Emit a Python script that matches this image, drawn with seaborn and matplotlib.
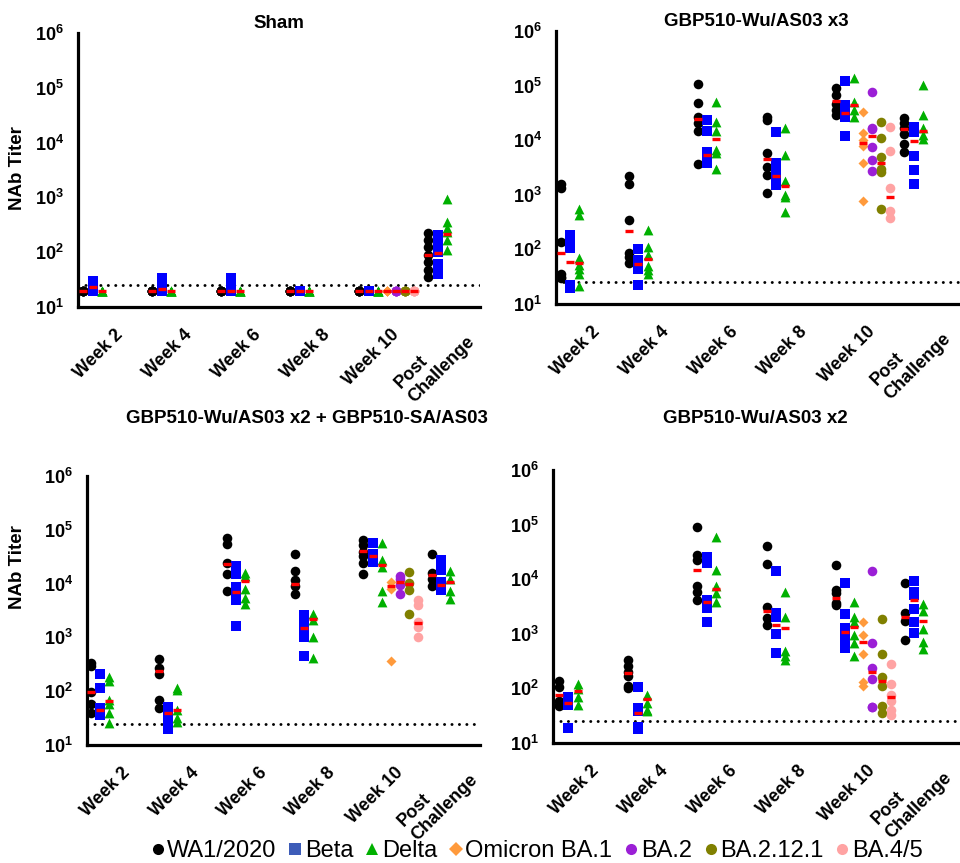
import numpy as np
import pandas as pd
import matplotlib
matplotlib.use("Agg")
import matplotlib.pyplot as plt
import matplotlib.transforms as mtransforms
from matplotlib.lines import Line2D
from matplotlib.ticker import NullLocator
import seaborn as sns

# ---------------- data ----------------
groups = ["Week 2", "Week 4", "Week 6", "Week 8", "Week 10", "Post\nChallenge"]
strains = ["WA1/2020", "Beta", "Delta", "Omicron BA.1", "BA.2", "BA.2.12.1", "BA.4/5"]
titles = ["Sham", "GBP510-Wu/AS03 x3", "GBP510-Wu/AS03 x2 + GBP510-SA/AS03", "GBP510-Wu/AS03 x2"]
lod = 25

# Sham
sham_wa1 = [[20, 20, 20, 20, 20, 20], [20, 20, 20, 20, 20, 20], [20, 20, 20, 20, 20, 20],
            [20, 20, 20, 20, 20, 20], [20, 20, 20, 20, 20, 20], [220, 170, 126, 89, 67, 47, 35]]
sham_beta = [[20, 20, 20, 25, 30], [20, 20, 22, 28, 34], [20, 20, 22, 28, 34],
             [20, 20, 20, 20, 20], [20, 20, 20, 20, 20], [210, 160, 120, 100, 62, 48, 40]]
sham_delta = [[20, 20, 20, 20, 20], [20, 20, 20, 20, 20], [20, 20, 20, 20, 20],
              [20, 20, 20, 20, 20], [20, 20, 20, 20, 20], [950, 350, 280, 230, 170, 110]]
sham_ba1 = [20, 20, 20, 20, 20]
sham_ba2 = [20, 20, 20, 20, 20]
sham_ba2121 = [20, 20, 20, 20, 20]
sham_ba45 = [20, 20, 20, 20, 20]
sham_gm_wa1 = [20, 20, 20, 20, 20, 89]
sham_gm_beta = [23, 21, 20, 20, 20, 96]
sham_gm_delta = [20, 20, 20, 20, 20, 214]
sham_gm_omicron = [20, 20, 20, 20]

# GBP510-Wu/AS03 x3
x3_wa1 = [[1550, 1350, 135, 36, 31, 30], [2200, 1600, 340, 85, 74, 56],
          [108000, 48000, 27000, 21000, 15000, 3600], [27000, 23000, 5800, 3200, 2300, 1100],
          [89000, 67000, 47000, 35000, 29500], [26000, 21000, 16500, 13200, 8500, 6200]]
x3_beta = [[180, 140, 105, 22, 20, 20], [100, 63, 44, 22],
           [23500, 15000, 6100, 5000, 3800], [14000, 3800, 2500, 1700, 1500],
           [122000, 44000, 38000, 27000, 12000], [17600, 14300, 5200, 2800, 1550]]
x3_delta = [[550, 430, 69, 52, 43, 35, 21], [230, 110, 80, 49, 42, 35],
            [50000, 21500, 15000, 6600, 5800, 3000], [17000, 5400, 1800, 1000, 900, 480],
            [139000, 50000, 35000, 27000], [101000, 29000, 16500, 12400, 10700]]
x3_ba1 = [32500, 13700, 10000, 7800, 3900, 760]
x3_ba2 = [75000, 16500, 16000, 7600, 4300, 2700]
x3_ba2121 = [22000, 11200, 4900, 3000, 2650, 550]
x3_ba45 = [17800, 6400, 1350, 510, 370]
x3_gm_wa1 = [85, 215, 24500, 4500, 52000, 15900]
x3_gm_beta = [60, 54, 5300, 2200, 31000, 9800]
x3_gm_delta = [56, 68, 10700, 1450, 44000, 14500]
x3_gm_omicron = [9000, 12000, 3900, 930]

# GBP510-Wu/AS03 x2 + GBP510-SA/AS03
sa_wa1 = [[330, 295, 98, 58, 39], [400, 270, 210, 69, 48],
          [69000, 54000, 24000, 15400, 7400], [36000, 17300, 11500, 8900, 6500],
          [64000, 52000, 38000, 32500, 24000, 15400], [35000, 16000, 12000, 9100]]
sa_beta = [[210, 113, 48, 39, 36], [51, 41, 32, 27, 19.5],
           [21000, 15400, 8700, 5700, 4900, 1650], [2600, 2080, 1800, 1180, 1030, 460],
           [58000, 36000, 31500, 25500], [28000, 18000, 10700, 7500]]
sa_delta = [[180, 157, 69, 59, 39, 26], [113, 107, 45, 31.6, 27],
            [16000, 14000, 7800, 5300, 4200], [2750, 2080, 1030, 410],
            [58000, 27000, 20500, 7400, 4500], [17000, 12000, 7300, 5200]]
sa_ba1 = [10700, 8100, 370]
sa_ba2 = [13700, 12000, 9300, 6300]
sa_ba2121 = [16600, 10300, 7700, 2750]
sa_ba45 = [4900, 4000, 1960, 1580, 1000]
sa_gm_wa1 = [96, 240, 23500, 10000, 40500, 14500]
sa_gm_beta = [45, 39, 7100, 1480, 32500, 9300]
sa_gm_delta = [66, 45, 11000, 2200, 22500, 10500]
sa_gm_omicron = [8900, 10500, 9800, 1820]

# GBP510-Wu/AS03 x2
x2_wa1 = [[135, 105, 58, 50, 47], [325, 262, 200, 167, 112, 102],
          [89000, 28000, 22600, 7600, 5900, 4200], [41000, 18700, 3160, 1940, 1460],
          [18300, 6300, 5500, 3600, 3400], [8700, 2450, 1700, 760]]
x2_beta = [[71, 58, 50, 19], [104, 44, 38, 20, 18],
           [25000, 19600, 4200, 2950, 1620], [14400, 2450, 2000, 1000, 450],
           [8700, 2300, 1260, 890, 830, 550], [9300, 5900, 5200, 2800, 1620, 1020]]
x2_delta = [[122, 96, 71, 50], [76, 55, 41, 38],
            [60000, 14900, 7400, 5500, 3900], [5900, 2000, 480, 390, 325],
            [3900, 2070, 1620, 950, 690, 390], [3500, 2600, 1230, 720, 530]]
x2_ba1 = [1620, 950, 430, 130, 110]
x2_ba2 = [14000, 680, 240, 148, 46, 45]
x2_ba2121 = [1870, 430, 160, 113, 47, 36]
x2_ba45 = [277, 122, 75, 59, 41, 33]
x2_gm_wa1 = [76, 190, 14900, 2570, 4600, 2000]
x2_gm_beta = [54, 36, 3900, 1420, 1070, 4100]
x2_gm_delta = [89, 65, 6600, 1260, 1320, 1740]
x2_gm_omicron = [700, 200, 138, 69]

# ---------------- styling ----------------
colors = {"WA1/2020": "#000000", "Beta": "#0000FF", "Delta": "#00B000",
          "Omicron BA.1": "#FF9A3C", "BA.2": "#9B1FD6", "BA.2.12.1": "#808000",
          "BA.4/5": "#FFA3A3"}
legend_colors = dict(colors, **{"Beta": "#3D5CB8"})
markers = {"WA1/2020": "o", "Beta": "s", "Delta": "^", "Omicron BA.1": "D",
           "BA.2": "o", "BA.2.12.1": "o", "BA.4/5": "o"}
msize = {"o": 48, "s": 42, "^": 50, "D": 26}
slot = 0.133

sns.set_theme(style="white")
plt.rcParams['font.family'] = ['Liberation Sans', 'DejaVu Sans']
plt.rcParams['mathtext.fontset'] = 'custom'
plt.rcParams['mathtext.rm'] = 'Liberation Sans'
plt.rcParams['mathtext.bf'] = 'Liberation Sans:bold'
plt.rcParams['text.color'] = 'black'
plt.rcParams['axes.labelcolor'] = 'black'
plt.rcParams['xtick.color'] = 'black'
plt.rcParams['ytick.color'] = 'black'


def build(wa1, beta, delta, ba1, ba2, ba2121, ba45, gwa1, gbeta, gdelta, gomi):
    rows, grows = [], []
    for s, series, gm in ((strains[0], wa1, gwa1), (strains[1], beta, gbeta), (strains[2], delta, gdelta)):
        si = strains.index(s)
        for gi, vals in enumerate(series):
            for v in vals:
                rows.append((s, gi, gi + (si - 3) * slot, v))
            grows.append((s, gi, gi + (si - 3) * slot, gm[gi]))
    for k, (s, vals) in enumerate(zip(strains[3:], (ba1, ba2, ba2121, ba45))):
        si = strains.index(s)
        gi = 4
        for v in vals:
            rows.append((s, gi, gi + (si - 3) * slot, v))
        grows.append((s, gi, gi + (si - 3) * slot, gomi[k]))
    cols = ["strain", "group", "x", "titer"]
    return pd.DataFrame(rows, columns=cols), pd.DataFrame(grows, columns=cols)


panels = [
    build(sham_wa1, sham_beta, sham_delta, sham_ba1, sham_ba2, sham_ba2121, sham_ba45,
          sham_gm_wa1, sham_gm_beta, sham_gm_delta, sham_gm_omicron),
    build(x3_wa1, x3_beta, x3_delta, x3_ba1, x3_ba2, x3_ba2121, x3_ba45,
          x3_gm_wa1, x3_gm_beta, x3_gm_delta, x3_gm_omicron),
    build(sa_wa1, sa_beta, sa_delta, sa_ba1, sa_ba2, sa_ba2121, sa_ba45,
          sa_gm_wa1, sa_gm_beta, sa_gm_delta, sa_gm_omicron),
    build(x2_wa1, x2_beta, x2_delta, x2_ba1, x2_ba2, x2_ba2121, x2_ba45,
          x2_gm_wa1, x2_gm_beta, x2_gm_delta, x2_gm_omicron),
]

W, H = 960, 863
fig = plt.figure(figsize=(W / 100, H / 100), dpi=100)

# pixel boxes: left, right, top(1e6), bottom(1e1), xlim
boxes = [(78, 480, 33, 307, (-0.478, 5.35)),
         (556, 960, 31, 304, (-0.465, 5.41)),
         (87, 480, 476, 745, (-0.455, 5.31)),
         (553, 960, 470, 743, (-0.49, 5.40))]
title_pos = [(279, 23), (756, 21), (307, 418), (755, 418)]
ylabel_pos = [(18, 168), None, (18, 567), None]

for p, ((df, gdf), (l, r, t, b, xl)) in enumerate(zip(panels, boxes)):
    ax = fig.add_axes([l / W, 1 - b / H, (r - l) / W, (b - t) / H])
    ax.set_yscale('log')
    ax.set_ylim(10, 1e6)
    ax.set_xlim(*xl)
    ax.axhline(lod, color='black', lw=2.1, linestyle=(0, (0.05, 2.5)),
               dash_capstyle='round', zorder=1)
    for s in strains:
        sub = df[df.strain == s]
        m = markers[s]
        sns.scatterplot(data=sub, x="x", y="titer", marker=m, color=colors[s],
                        s=msize[m], linewidth=0, ax=ax, legend=False, zorder=3)
    sns.scatterplot(data=gdf, x="x", y="titer", marker="_", color="#FF0000",
                    s=30, linewidth=2.4, ax=ax, legend=False, zorder=5)

    for side in ("top", "right"):
        ax.spines[side].set_visible(False)
    for side in ("left", "bottom"):
        ax.spines[side].set_linewidth(2.3)
        ax.spines[side].set_color("black")
    ax.set_yticks([1e1, 1e2, 1e3, 1e4, 1e5, 1e6])
    ax.set_yticklabels([r'$\mathbf{10^{%d}}$' % k for k in range(1, 7)])
    ax.yaxis.set_minor_locator(NullLocator())
    ax.set_xticks(range(len(groups)))
    ax.set_xticklabels(groups, rotation=45, ha='right', va='center',
                       rotation_mode='anchor', fontweight='bold', fontsize=13,
                       multialignment='left')
    ax.tick_params(axis='both', which='major', length=8, width=2.3, color='black',
                   direction='out', labelcolor='black')
    ax.tick_params(axis='y', labelsize=13, pad=2)
    ax.tick_params(axis='x', pad=6)
    off = mtransforms.ScaledTranslation(7 / 72, -4 / 72, fig.dpi_scale_trans)
    for lab in ax.get_xticklabels():
        lab.set_transform(lab.get_transform() + off)
    ax.set_xlabel("")
    ax.set_ylabel("")
    ax.grid(False)
    tx, ty = title_pos[p]
    fig.text(tx / W, 1 - ty / H, titles[p], ha='center', va='center',
             fontsize=13.5, fontweight='bold', color='black')
    if ylabel_pos[p] is not None:
        yx, yy = ylabel_pos[p]
        fig.text(yx / W, 1 - yy / H, "NAb Titer", ha='center', va='center',
                 rotation=90, fontsize=13.5, fontweight='bold', color='black')

handles = [Line2D([], [], linestyle='none', marker=markers[s], color=legend_colors[s],
                  markersize=(8 if markers[s] != 'D' else 7), markeredgewidth=0)
           for s in strains]
fig.legend(handles, strains, loc='center', bbox_to_anchor=(536 / W, 1 - 851 / H),
           ncol=7, frameon=False, fontsize=17, handletextpad=0.05,
           columnspacing=0.45, handlelength=0.7, borderpad=0, labelcolor='black')

fig.savefig("out.png", dpi=100)
